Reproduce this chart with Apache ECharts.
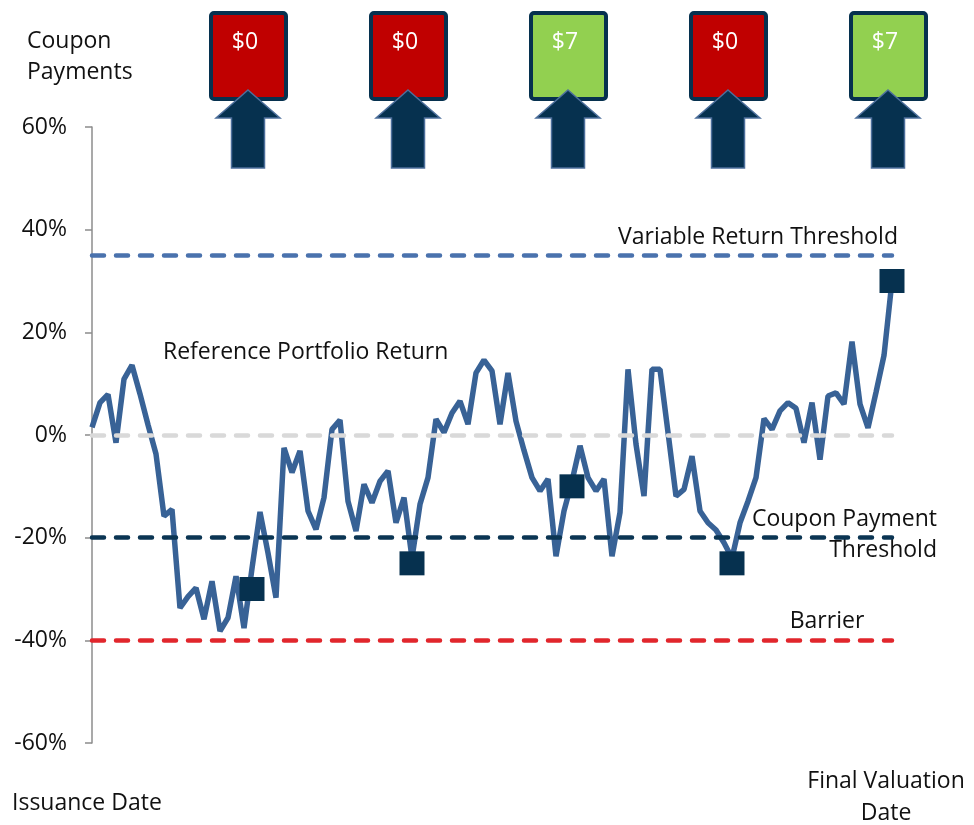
<!DOCTYPE html>
<html>
<head>
<meta charset="utf-8">
<script src="https://cdn.jsdelivr.net/npm/echarts@6/dist/echarts.min.js"></script>
<style>
  html, body { margin: 0; padding: 0; background: #fff; }
  #chart { width: 974px; height: 825px; }
</style>
</head>
<body>
<div id="chart"></div>
<script>
// portfolio return path (%), one point per step, 0 = issuance, 100 = final valuation
const returns = [
  1.5, 6.3, 7.9, -1.5, 10.9, 13.6, 8, 2, -3.7, -15.8,
  -14.5, -33.7, -31.5, -29.8, -35.9, -28.5, -38.2, -35.6, -27.5, -37.6,
  -26, -15, -23, -31.7, -2.5, -7.3, -3.1, -14.8, -18.4, -12.2,
  1.1, 2.9, -12.9, -18.7, -9.6, -13.2, -9, -7, -17.1, -12.2,
  -24, -13.5, -8.3, 3.1, 0.5, 4.3, 6.6, 2.1, 12.1, 14.6,
  12.5, 2.1, 12.1, 2.7, -3, -8.3, -10.9, -8.6, -23.6, -14.8,
  -9, -2.1, -8.3, -10.9, -8.6, -23.6, -15.1, 12.8, -1.8, -11.9,
  12.8, 12.8, 0.5, -11.9, -10.6, -4.1, -14.8, -17.1, -18.5, -21,
  -24, -17.1, -12.9, -8.3, 3.2, 1.1, 4.7, 6.3, 5.2, -1.5,
  6.3, -4.8, 7.6, 8.2, 6, 18.2, 6, 1.4, 8.3, 15.5,
  30
];
const steps = returns.map((_, i) => i);

// observation dates and the return read at each one
const obsIndex = [20, 40, 60, 80, 100];
const obsValues = [-30, -25, -10, -25, 30];
const couponLabels = ['$0', '$0', '$7', '$0', '$7'];
const couponPaid = [false, false, true, false, true];

// horizontal thresholds (%)
const variableThreshold = 35;
const couponThreshold = -20;
const barrier = -40;

const yTicks = { min: -60, max: 60, interval: 20 };

const FONT = '"Open Sans", "Noto Sans", sans-serif';
const TXT = '23px ' + FONT;
const NAVY = '#06314f';

const chart = echarts.init(document.getElementById('chart'));

const hLine = (value, color) => ({
  yAxis: value,
  lineStyle: { color, width: 4.5, type: [12, 12], cap: 'round' }
});

const note = (text, x, y, align, extra) => ({
  type: 'text', x, y,
  style: Object.assign({ text, font: TXT, fill: '#111', align, verticalAlign: 'middle' }, extra || {})
});

chart.setOption({
  animation: false,
  grid: { left: 92, right: 82, top: 127, bottom: 82 },
  xAxis: {
    type: 'category',
    data: steps,
    boundaryGap: false,
    axisLine: { show: false },
    axisTick: { show: false },
    axisLabel: { show: false },
    splitLine: { show: false }
  },
  yAxis: {
    type: 'value',
    min: yTicks.min,
    max: yTicks.max,
    interval: yTicks.interval,
    axisLine: { show: true, lineStyle: { color: '#8c8c8c', width: 1.5 } },
    axisTick: { show: true, length: 7, lineStyle: { color: '#8c8c8c', width: 1.5 } },
    axisLabel: { formatter: '{value}%', color: '#111', fontSize: 23, fontFamily: FONT, margin: 25 },
    splitLine: { show: false }
  },
  series: [
    {
      // threshold lines
      type: 'line',
      data: [],
      z: 1,
      markLine: {
        silent: true,
        symbol: 'none',
        label: { show: false },
        data: [
          hLine(0, '#d9d9d9'),
          hLine(variableThreshold, '#4a72ad'),
          hLine(couponThreshold, '#0b3553'),
          hLine(barrier, '#e1262c')
        ]
      }
    },
    {
      name: 'Reference Portfolio Return',
      type: 'line',
      data: returns,
      z: 3,
      symbol: 'none',
      lineStyle: { color: '#386296', width: 5.5 }
    },
    {
      type: 'scatter',
      z: 4,
      data: obsIndex.map((x, i) => [x, obsValues[i]]),
      symbol: 'rect',
      symbolSize: [25, 24],
      itemStyle: { color: NAVY, opacity: 1 }
    },
    {
      // coupon boxes with arrows above each observation date
      type: 'custom',
      z: 5,
      clip: false,
      data: obsIndex.map((x, i) => [x, yTicks.max, i]),
      renderItem: (params, api) => {
        const i = api.value(2);
        const p = api.coord([api.value(0), api.value(1)]);
        const x = p[0] - 4;
        const y = p[1];
        return {
          type: 'group',
          children: [
            {
              type: 'rect',
              shape: { x: x - 37, y: y - 114, width: 75, height: 86, r: 3 },
              style: { fill: couponPaid[i] ? '#92d050' : '#c00000', stroke: NAVY, lineWidth: 4 }
            },
            {
              type: 'text',
              style: {
                text: couponLabels[i], x: x - 3, y: y - 85,
                fill: '#fff', font: TXT, align: 'center', verticalAlign: 'middle'
              }
            },
            {
              type: 'polygon',
              shape: {
                points: [
                  [x, y - 37], [x + 32, y - 9], [x + 16.5, y - 9], [x + 16.5, y + 41],
                  [x - 16.5, y + 41], [x - 16.5, y - 9], [x - 32, y - 9]
                ]
              },
              style: { fill: NAVY, stroke: '#4d6f9c', lineWidth: 1.5 }
            }
          ]
        };
      }
    }
  ],
  graphic: [
    note('Coupon\nPayments', 27, 57, 'left', { lineHeight: 31 }),
    note('Variable Return Threshold', 898, 237, 'right'),
    note('Reference Portfolio Return', 163, 352, 'left'),
    note('Coupon Payment\nThreshold', 937, 535, 'right', { lineHeight: 31 }),
    note('Barrier', 827, 621, 'center'),
    note('Issuance Date', 12, 803, 'left'),
    note('Final Valuation\nDate', 886, 797, 'center', { lineHeight: 32 })
  ]
});
</script>
</body>
</html>
